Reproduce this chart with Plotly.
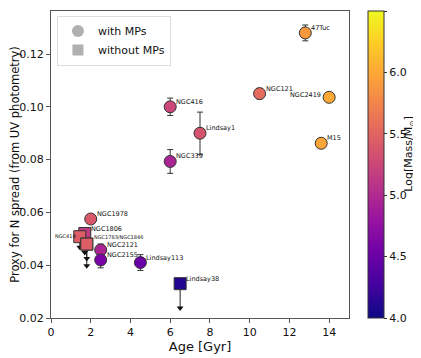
import plotly.graph_objects as go

# Clusters with multiple populations (circles)
mp_names = ["47Tuc", "NGC121", "NGC2419", "M15", "NGC416", "Lindsay1", "NGC339",
            "NGC1978", "NGC2121", "NGC2155", "Lindsay113"]
mp_age = [12.8, 10.5, 14.0, 13.6, 6.0, 7.5, 6.0, 2.0, 2.5, 2.5, 4.5]
mp_spread = [0.128, 0.105, 0.1036, 0.0862, 0.100, 0.090, 0.0793, 0.0575, 0.0458, 0.0420, 0.0410]
mp_err = [0.003, 0.002, 0.0, 0.0, 0.0033, 0.008, 0.0045, 0.0015, 0.0022, 0.0030, 0.0030]
mp_logmass = [5.9, 5.55, 6.0, 5.98, 5.25, 5.35, 4.95, 5.4, 4.95, 4.6, 4.5]

# Clusters without multiple populations (squares, upper limits)
nomp_names = ["NGC1806", "NGC419", "NGC1783", "NGC1846", "Lindsay38"]
nomp_age = [1.7, 1.45, 1.8, 1.8, 6.5]
nomp_spread = [0.052, 0.0508, 0.048, 0.048, 0.0330]
nomp_limit = [0.0448, 0.0468, 0.0425, 0.0398, 0.0238]
nomp_logmass = [5.15, 5.45, 5.45, 5.45, 4.1]

label_names = ["47Tuc", "NGC121", "NGC2419", "M15", "NGC416", "Lindsay1", "NGC339",
               "NGC1978", "NGC2121", "NGC2155", "Lindsay113", "NGC1806", "NGC419",
               "NGC1783/NGC1846", "Lindsay38"]

FONT = "DejaVu Sans"
cmin, cmax = 4.0, 6.5

fig = go.Figure()

# legend dummies
fig.add_trace(go.Scatter(x=[None], y=[None], mode="markers", name="with MPs",
                         marker=dict(symbol="circle", size=12, color="#b0b0b0")))
fig.add_trace(go.Scatter(x=[None], y=[None], mode="markers", name="without MPs",
                         marker=dict(symbol="square", size=11, color="#b0b0b0")))

# arrow shafts for upper limits (squares)
lim_minus = [s - l for s, l in zip(nomp_spread, nomp_limit)]
fig.add_trace(go.Scatter(
    x=nomp_age, y=nomp_spread, mode="markers", showlegend=False,
    marker=dict(size=1, color="rgba(0,0,0,0)"),
    error_y=dict(type="data", symmetric=False, array=[0] * len(nomp_age),
                 arrayminus=lim_minus, color="#222", thickness=1, width=0)))
fig.add_trace(go.Scatter(
    x=nomp_age, y=nomp_limit, mode="markers", showlegend=False,
    marker=dict(symbol="triangle-down", size=6, color="#111")))

# squares
fig.add_trace(go.Scatter(
    x=nomp_age, y=nomp_spread, mode="markers", showlegend=False,
    marker=dict(symbol="square", size=12, color=nomp_logmass, colorscale="Plasma",
                cmin=cmin, cmax=cmax, line=dict(color="#333", width=1))))

# circles with error bars
fig.add_trace(go.Scatter(
    x=mp_age, y=mp_spread, mode="markers", showlegend=False,
    error_y=dict(type="data", array=mp_err, color="#333", thickness=1, width=3),
    marker=dict(symbol="circle", size=12, color=mp_logmass, colorscale="Plasma",
                cmin=cmin, cmax=cmax, line=dict(color="#333", width=1),
                colorbar=dict(
                    x=1.064, xanchor="left", y=0.5, yanchor="middle", len=1.0,
                    lenmode="fraction", thickness=16, outlinecolor="#333", outlinewidth=1,
                    xpad=0, ypad=0,
                    tickvals=[4.0, 4.5, 5.0, 5.5, 6.0, 6.5], ticktext=["4.0", "4.5", "5.0", "5.5", "6.0", "6.5"],
                    ticks="outside", ticklen=3, tickcolor="#333",
                    tickfont=dict(family=FONT, size=11, color="#111")))))

# colorbar title
fig.add_annotation(x=1.203, y=0.537, xref="paper", yref="paper", text="Log[Mass/M<sub>⊙</sub>]",
                   textangle=-90, showarrow=False, xanchor="center", yanchor="middle",
                   font=dict(family=FONT, size=11, color="#111"))

# labels
pos = {}
for n, x, y in zip(mp_names, mp_age, mp_spread):
    pos[n] = (x, y)
for n, x, y in zip(nomp_names, nomp_age, nomp_spread):
    pos[n] = (x, y)
pos["NGC1783/NGC1846"] = pos["NGC1783"]

for n in label_names:
    x, y = pos[n]
    xa, xs, ys, fs = "left", 4, 5, 6.5
    if n == "NGC2419":
        xa, xs, ys = "right", -6, 2
    if n == "NGC419":
        xa, xs, ys, fs = "right", -2, 1, 5
    if n == "NGC1783/NGC1846":
        xs, ys, fs = 5, 7, 5
    fig.add_annotation(x=x, y=y, xref="x", yref="y", text=n, showarrow=False,
                       xanchor=xa, yanchor="middle", xshift=xs, yshift=ys,
                       font=dict(family=FONT, size=fs, color="#111"))

axis_common = dict(showline=True, mirror=True, linecolor="#555", linewidth=1,
                   ticks="outside", ticklen=4, tickcolor="#555", showgrid=False,
                   zeroline=False, automargin=False,
                   tickfont=dict(family=FONT, size=11, color="#111"))

fig.update_layout(
    width=413, height=350,
    margin=dict(l=43, r=72, t=3, b=40, autoexpand=False),
    paper_bgcolor="white", plot_bgcolor="white",
    font=dict(family=FONT, color="#111"),
    xaxis=dict(range=[0, 15], tickvals=[0, 2, 4, 6, 8, 10, 12, 14],
               title=dict(text="Age [Gyr]", font=dict(family=FONT, size=13), standoff=0),
               **axis_common),
    yaxis=dict(range=[0.02, 0.1363], tickvals=[0.02, 0.04, 0.06, 0.08, 0.10, 0.12],
               ticktext=["0.02", "0.04", "0.06", "0.08", "0.10", "0.12"],
               title=dict(text="Proxy for N spread (from UV photometry)",
                          font=dict(family=FONT, size=11.5), standoff=4),
               **axis_common),
    legend=dict(x=0.02, y=0.985, xanchor="left", yanchor="top", bgcolor="white",
                bordercolor="#ddd", borderwidth=1,
                font=dict(family=FONT, size=11, color="#111"),
                itemsizing="trace"),
)

fig.write_html("out.html")
